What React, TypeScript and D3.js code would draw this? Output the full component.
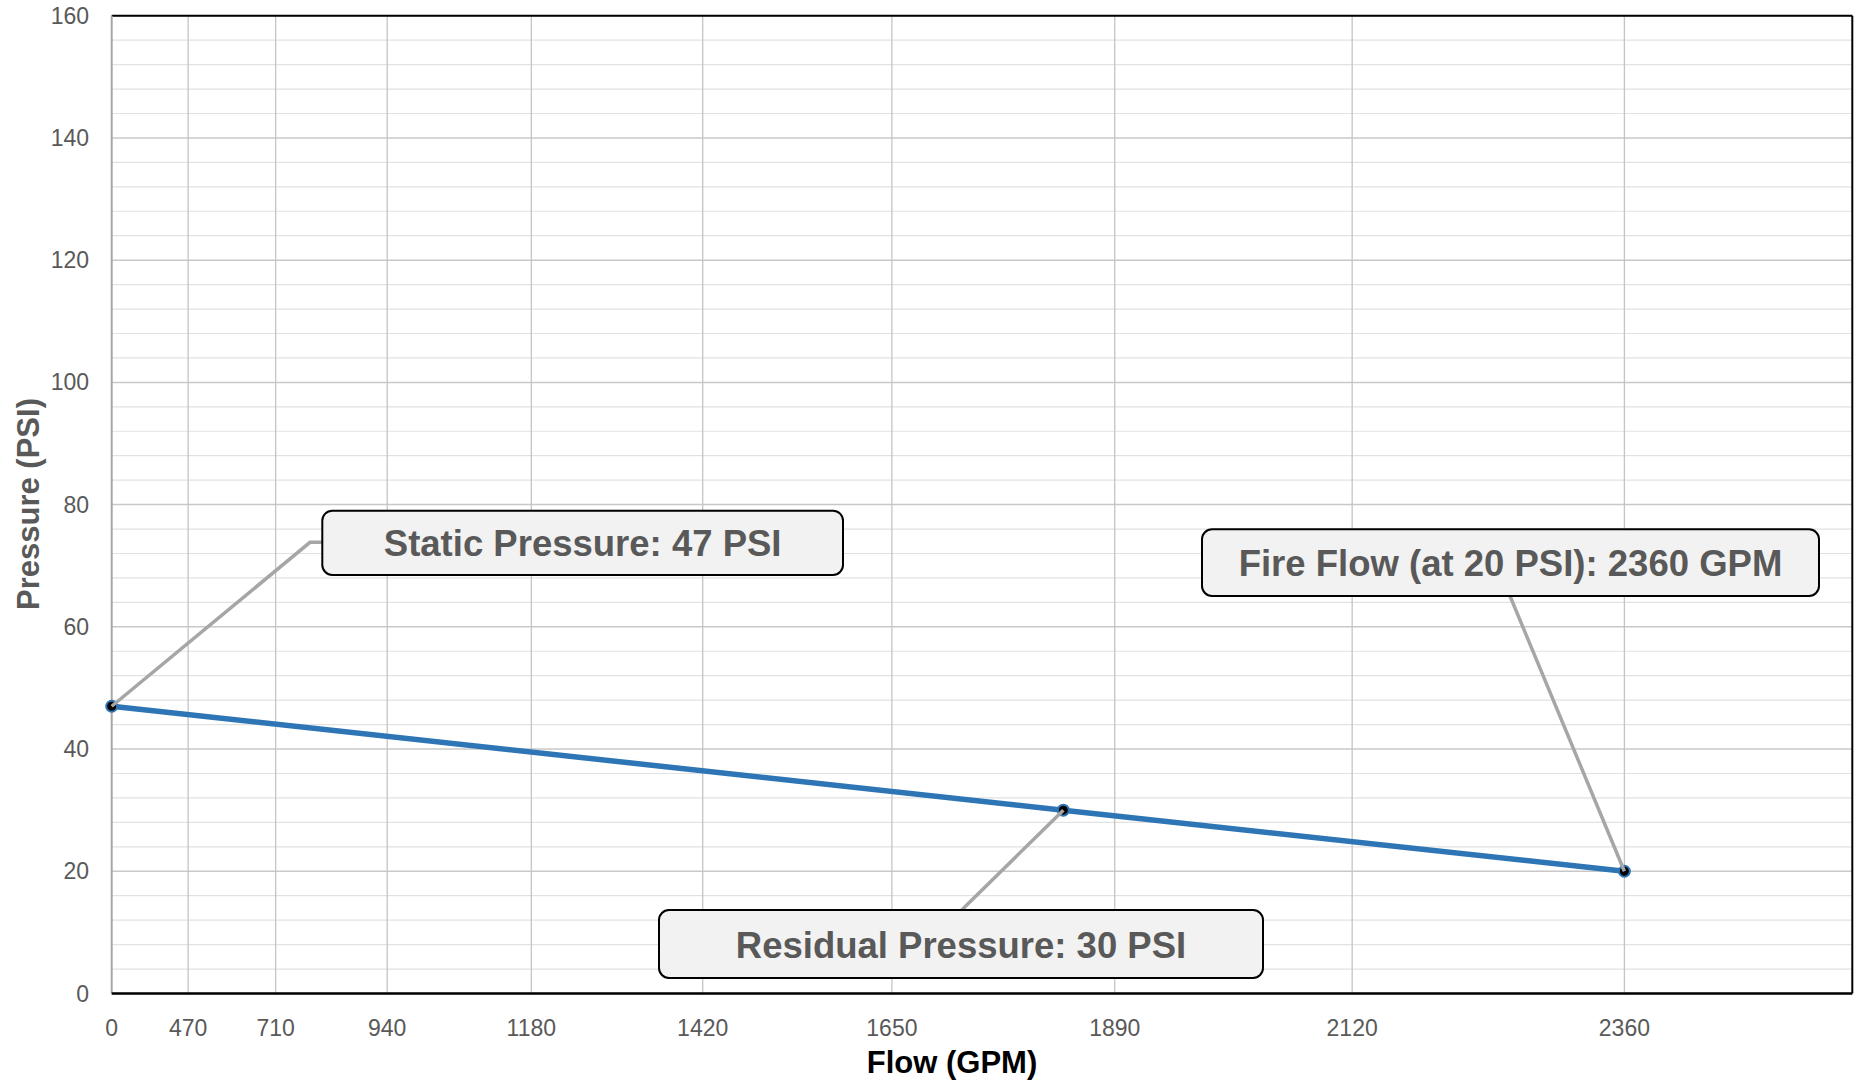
import React from "react";
import * as d3 from "d3";

const flowValues = [0, 1837, 2360];
const pressureValues = [47, 30, 20];
const xTickValues = [0, 470, 710, 940, 1180, 1420, 1650, 1890, 2120, 2360];
const yTickValues = [0, 20, 40, 60, 80, 100, 120, 140, 160];
const yMinorStep = 4;
const annotationTexts = [
  "Static Pressure: 47 PSI",
  "Residual Pressure: 30 PSI",
  "Fire Flow (at 20 PSI): 2360 GPM",
];
const xTitle = "Flow (GPM)";
const yTitle = "Pressure (PSI)";

const W = 1864;
const H = 1081;
const L = 111.7;
const R = 1852.3;
const T = 15.7;
const B = 993.5;
const X_MAX = 2546;

export default function App() {
  const x = d3.scalePow().exponent(1.85).domain([0, X_MAX]).range([L, R]);
  const y = d3.scaleLinear().domain([0, 160]).range([B, T]);
  const minor = d3.range(0, 161, yMinorStep).filter((v) => v % 20 !== 0);
  const pts = flowValues.map((f, i) => [x(f), y(pressureValues[i])] as [number, number]);
  const line = d3.line<[number, number]>()(pts) || "";

  const font = "'Liberation Sans', Arial, sans-serif";
  const boxes = [
    { x0: 322.3, y0: 510.7, x1: 843, y1: 575, leader: [[pts[0][0], pts[0][1]], [310, 542.3], [322.3, 542.3]] },
    { x0: 659, y0: 910, x1: 1263, y1: 978, leader: [[961.7, 910], [pts[1][0], pts[1][1]]] },
    { x0: 1202, y0: 529.3, x1: 1819, y1: 596, leader: [[1510, 596], [pts[2][0], pts[2][1]]] },
  ];

  return (
    <div style={{ position: "absolute", left: 0, top: 0 }}>
      <svg width={W} height={H} style={{ display: "block", background: "#fff" }}>
        {minor.map((v) => (
          <line key={"mn" + v} x1={L} x2={R} y1={y(v)} y2={y(v)} stroke="#e2e2e2" strokeWidth={1.2} />
        ))}
        {yTickValues.map((v) => (
          <line key={"mj" + v} x1={L} x2={R} y1={y(v)} y2={y(v)} stroke="#c8c8c8" strokeWidth={1.5} />
        ))}
        {xTickValues.filter((v) => v > 0).map((v) => (
          <line key={"vx" + v} x1={x(v)} x2={x(v)} y1={T} y2={B} stroke="#c4c4c4" strokeWidth={1.3} />
        ))}
        <line x1={L} x2={R} y1={T} y2={T} stroke="#000" strokeWidth={2} />
        <line x1={R} x2={R} y1={T} y2={B} stroke="#000" strokeWidth={2} />
        <line x1={L} x2={L} y1={T} y2={B} stroke="#a6a6a6" strokeWidth={2} />
        <line x1={L} x2={R} y1={B} y2={B} stroke="#000" strokeWidth={2.5} />

        {yTickValues.map((v) => (
          <text key={"yl" + v} x={89} y={y(v) + 8} textAnchor="end" fontFamily={font} fontSize={23} fill="#595959">
            {v}
          </text>
        ))}
        {xTickValues.map((v) => (
          <text key={"xl" + v} x={x(v)} y={1036} textAnchor="middle" fontFamily={font} fontSize={23} fill="#595959">
            {v}
          </text>
        ))}

        <text x={952} y={1073} textAnchor="middle" fontFamily={font} fontWeight="bold" fontSize={31} fill="#000">
          {xTitle}
        </text>
        <text
          transform={`translate(39, ${504}) rotate(-90)`}
          textAnchor="middle"
          fontFamily={font}
          fontWeight="bold"
          fontSize={31}
          fill="#595959"
        >
          {yTitle}
        </text>

        <path d={line} fill="none" stroke="#2E75B6" strokeWidth={5.5} />
        {pts.map((p, i) => (
          <circle key={"pt" + i} cx={p[0]} cy={p[1]} r={5.5} fill="#000" stroke="#2E75B6" strokeWidth={2} />
        ))}

        {boxes.map((b, i) => (
          <g key={"an" + i}>
            <polyline
              points={b.leader.map((p) => p.join(",")).join(" ")}
              fill="none"
              stroke="#a6a6a6"
              strokeWidth={3.5}
            />
            <rect
              x={b.x0}
              y={b.y0}
              width={b.x1 - b.x0}
              height={b.y1 - b.y0}
              rx={10}
              ry={10}
              fill="#f2f2f2"
              stroke="#000"
              strokeWidth={2}
            />
            <text
              x={(b.x0 + b.x1) / 2}
              y={(b.y0 + b.y1) / 2 + 13.5}
              textAnchor="middle"
              fontFamily={font}
              fontWeight="bold"
              fontSize={36.5}
              fill="#595959"
            >
              {annotationTexts[i]}
            </text>
          </g>
        ))}
      </svg>
    </div>
  );
}
